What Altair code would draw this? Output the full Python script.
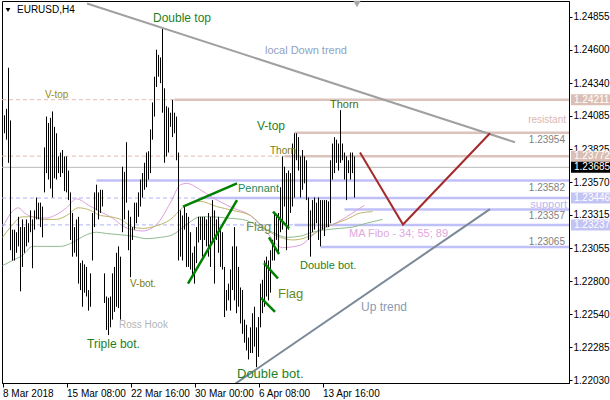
import altair as alt
import pandas as pd

# ---- EURUSD H4 bars (bar 0 = 8 Mar 2018 00:00), high / low per bar ----
highs = [
    1.2415, 1.2409, 1.2414, 1.2446, 1.2405, 1.2320, 1.2320, 1.2318, 1.2330, 1.2322,
    1.2328, 1.2322, 1.2328, 1.2325, 1.2335, 1.2328, 1.2335, 1.2345, 1.2341, 1.2341,
    1.2338, 1.2384, 1.2408, 1.2403, 1.2407, 1.2412, 1.2400, 1.2395, 1.2377, 1.2380,
    1.2382, 1.2377, 1.2377, 1.2366, 1.2349, 1.2333, 1.2322, 1.2328, 1.2330, 1.2294,
    1.2296, 1.2293, 1.2291, 1.2273, 1.2286, 1.2333, 1.2349, 1.2355, 1.2349, 1.2351,
    1.2351, 1.2286, 1.2268, 1.2267, 1.2268, 1.2286, 1.2291, 1.2302, 1.2307, 1.2299,
    1.2369, 1.2365, 1.2388, 1.2335, 1.2330, 1.2322, 1.2341, 1.2341, 1.2349, 1.2359,
    1.2364, 1.2372, 1.2380, 1.2381, 1.2398, 1.2419, 1.2439, 1.2460, 1.2456, 1.2454,
    1.2477, 1.2430, 1.2416, 1.2415, 1.2411, 1.2421, 1.2411, 1.2408, 1.2380, 1.2335,
    1.2331, 1.2338, 1.2333, 1.2330, 1.2318, 1.2302, 1.2307, 1.2322, 1.2330, 1.2330,
    1.2330, 1.2330, 1.2328, 1.2333, 1.2330, 1.2343, 1.2335, 1.2328, 1.2330, 1.2322,
    1.2318, 1.2291, 1.2273, 1.2278, 1.2289, 1.2307, 1.2322, 1.2307, 1.2291, 1.2275,
    1.2273, 1.2250, 1.2246, 1.2236, 1.2244, 1.2255, 1.2260, 1.2244, 1.2252, 1.2278,
    1.2281, 1.2296, 1.2299, 1.2296, 1.2304, 1.2312, 1.2333, 1.2330, 1.2333, 1.2353,
    1.2377, 1.2369, 1.2364, 1.2366, 1.2364, 1.2387, 1.2395, 1.2395, 1.2392, 1.2377,
    1.2382, 1.2377, 1.2374, 1.2345, 1.2335, 1.2343, 1.2345, 1.2341, 1.2345, 1.2343,
    1.2343, 1.2343, 1.2343, 1.2342, 1.2374, 1.2387, 1.2392, 1.2390, 1.2387, 1.2413,
    1.2387, 1.2380, 1.2377, 1.2374, 1.2380, 1.2380, 1.2377,
]
lows = [
    1.2396, 1.2395, 1.2390, 1.2372, 1.2304, 1.2296, 1.2296, 1.2302, 1.2307, 1.2272,
    1.2291, 1.2302, 1.2307, 1.2310, 1.2318, 1.2290, 1.2320, 1.2328, 1.2328, 1.2322,
    1.2314, 1.2349, 1.2364, 1.2359, 1.2352, 1.2345, 1.2360, 1.2359, 1.2364, 1.2361,
    1.2364, 1.2350, 1.2349, 1.2343, 1.2312, 1.2299, 1.2302, 1.2299, 1.2278, 1.2273,
    1.2260, 1.2271, 1.2268, 1.2257, 1.2260, 1.2296, 1.2322, 1.2335, 1.2328, 1.2333,
    1.2338, 1.2263, 1.2242, 1.2238, 1.2244, 1.2250, 1.2256, 1.2260, 1.2259, 1.2250,
    1.2318, 1.2328, 1.2341, 1.2304, 1.2283, 1.2312, 1.2320, 1.2325, 1.2330, 1.2338,
    1.2345, 1.2351, 1.2353, 1.2359, 1.2364, 1.2390, 1.2408, 1.2431, 1.2439, 1.2434,
    1.2411, 1.2372, 1.2377, 1.2380, 1.2400, 1.2392, 1.2395, 1.2374, 1.2296, 1.2299,
    1.2296, 1.2320, 1.2291, 1.2291, 1.2289, 1.2283, 1.2278, 1.2294, 1.2310, 1.2312,
    1.2299, 1.2312, 1.2307, 1.2299, 1.2291, 1.2312, 1.2278, 1.2312, 1.2302, 1.2291,
    1.2289, 1.2252, 1.2257, 1.2265, 1.2257, 1.2273, 1.2265, 1.2255, 1.2260, 1.2247,
    1.2239, 1.2232, 1.2226, 1.2219, 1.2224, 1.2224, 1.2229, 1.2213, 1.2221, 1.2244,
    1.2255, 1.2260, 1.2268, 1.2265, 1.2271, 1.2296, 1.2296, 1.2312, 1.2302, 1.2318,
    1.2320, 1.2338, 1.2304, 1.2320, 1.2333, 1.2338, 1.2345, 1.2374, 1.2366, 1.2345,
    1.2351, 1.2356, 1.2343, 1.2312, 1.2299, 1.2318, 1.2320, 1.2325, 1.2312, 1.2307,
    1.2320, 1.2315, 1.2322, 1.2322, 1.2325, 1.2359, 1.2364, 1.2372, 1.2366, 1.2372,
    1.2374, 1.2359, 1.2343, 1.2364, 1.2359, 1.2364, 1.2345,
]

# ---- moving averages (Fibo 34 / 55 / 89), sampled (bar, price) ----
ma34_bar = [0, 8, 11, 15, 22, 26, 32, 37, 43, 49, 55, 61, 65, 70, 77, 84, 89, 92, 99, 105,
            115, 124, 131, 140, 149, 154, 160, 165, 172, 177, 181]
ma34_val = [1.2322, 1.2337, 1.2333, 1.2330, 1.2329, 1.2331, 1.2337, 1.2344, 1.2339, 1.2334,
            1.2329, 1.2322, 1.2320, 1.2319, 1.2324, 1.2341, 1.2355, 1.2356, 1.2351, 1.2345,
            1.2337, 1.2331, 1.2320, 1.2306, 1.2308, 1.2314, 1.2322, 1.2324, 1.2330, 1.2335,
            1.2339]
ma55_bar = [0, 4, 10, 15, 20, 27, 32, 38, 44, 49, 54, 59, 65, 70, 77, 84, 90, 99, 107, 115,
            124, 132, 139, 145, 152, 157, 165, 172, 179, 185]
ma55_val = [1.2314, 1.2322, 1.2330, 1.2330, 1.2328, 1.2328, 1.2331, 1.2337, 1.2335, 1.2331,
            1.2330, 1.2328, 1.2322, 1.2321, 1.2323, 1.2328, 1.2337, 1.2342, 1.2338, 1.2335,
            1.2331, 1.2320, 1.2314, 1.2312, 1.2314, 1.2318, 1.2324, 1.2328, 1.2333, 1.2334]
ma89_bar = [0, 5, 10, 15, 20, 29, 35, 42, 47, 52, 59, 65, 72, 79, 85, 92, 99, 105, 112, 120,
            129, 135, 142, 149, 155, 162, 169, 175, 182, 190]
ma89_val = [1.2292, 1.2296, 1.2300, 1.2307, 1.2307, 1.2307, 1.2310, 1.2316, 1.2318, 1.2317,
            1.2316, 1.2315, 1.2313, 1.2314, 1.2316, 1.2324, 1.2330, 1.2330, 1.2329, 1.2328,
            1.2322, 1.2318, 1.2314, 1.2315, 1.2318, 1.2320, 1.2321, 1.2322, 1.2325, 1.2328]

# ---- horizontal price levels ----
level_price = [1.24211, 1.23954, 1.23772, 1.23685, 1.23582, 1.23446, 1.23357, 1.23237, 1.23065]
level_group = ["res", "res", "res", "cur", "sup", "sup", "sup", "sup", "sup"]
level_from = [86, 146, 141, -0.25, 47, 99, 171, 146, 159]      # bar where the solid line starts
level_dashed = [True, False, True, False, False, True, False, True, False]

# price tags on the axis and plain level captions
tag_price = [1.24211, 1.23772, 1.23685, 1.23446, 1.23237]
tag_group = ["res", "res", "cur", "sup", "sup"]
caption_below = [1.23954, 1.23582, 1.23357]
caption_above = [1.23065]

# ---- trend lines (bar, price) ----
down_trend = [(42.25, 1.2496), (256.25, 1.2388)]
up_trend = [(116.25, 1.2200), (243.75, 1.2336)]
forecast = [(178.75, 1.2380), (200.25, 1.2324), (243.75, 1.2395)]
pattern_segments = [
    [(90.25, 1.2338), (117.25, 1.2356)],   # pennant upper
    [(92.75, 1.2278), (117.25, 1.2343)],   # pennant lower
    [(135.25, 1.2334), (143.25, 1.2321)],  # flag
    [(133.25, 1.2314), (138.25, 1.2301)],
    [(130.75, 1.2294), (137.75, 1.2282)],  # flag
    [(129.25, 1.2267), (136.25, 1.2256)],
]

# ---- annotations (text, bar, price) ----
notes = [
    ("Double top", 75.25, 1.2485),
    ("local Down trend", 131.25, 1.2459),
    ("V-top", 21.25, 1.2425),
    ("Thorn", 163.75, 1.2417),
    ("V-top", 127.25, 1.2401),
    ("Thorn", 133.75, 1.2381),
    ("Pennant", 117.75, 1.2352),
    ("Flag", 121.75, 1.2322),
    ("MA Fibo - 34; 55; 89", 173.25, 1.2317),
    ("Double bot.", 148.75, 1.2292),
    ("V-bot.", 63.75, 1.2278),
    ("Flag", 137.75, 1.2270),
    ("Up trend", 179.25, 1.2260),
    ("Ross Hook", 58.25, 1.2246),
    ("Triple bot.", 42.25, 1.2231),
    ("Double bot.", 117.25, 1.2208),
]
right_notes = [("resistant", 281.75, 1.2405), ("support", 282.25, 1.2339)]

tick_bars = [0, 32, 64, 96, 128, 160]
tick_labels = ["8 Mar 2018", "15 Mar 08:00", "22 Mar 16:00", "30 Mar 00:00",
               "6 Apr 08:00", "13 Apr 16:00"]
price_ticks = [1.24855, 1.24600, 1.24340, 1.24085, 1.23825, 1.23570, 1.23315,
               1.23055, 1.22800, 1.22540, 1.22285, 1.22030]

# ---------------------------------------------------------------------------
FONT = "Liberation Sans"
GREEN = "#1f7f1f"
OLIVE = "#7a7a12"
note_style = {
    0: (GREEN, 12), 1: ("#8fa3bf", 11), 2: ("#9a8a10", 10), 3: ("#4d6b00", 11),
    4: (GREEN, 12), 5: (OLIVE, 10), 6: ("#1f8a5a", 11), 7: ("#6f8f4f", 13),
    8: ("#e0a8e0", 11), 9: (GREEN, 11), 10: (OLIVE, 10), 11: ("#5f8a1f", 13),
    12: ("#8a9ab0", 12), 13: ("#b4b4b4", 10), 14: (GREEN, 12), 15: (GREEN, 13),
}
group_colors = {"res": "#dcc4bc", "sup": "#c0c0f8", "cur": "#b8b8b8"}
dash_colors = {"res": "#e8b8b0", "sup": "#b0b0ff", "cur": "#b8b8b8"}
tag_colors = {"res": "#dbbfb5", "sup": "#c4c4f4", "cur": "black"}

X0, X1 = -0.25, 283.25
Y0, Y1 = 1.22007, 1.24979
xs = alt.Scale(domain=[X0, X1], nice=False, zero=False)
ys = alt.Scale(domain=[Y0, Y1], nice=False, zero=False)

label_expr = " : ".join(f"datum.value == {b} ? '{t}'" for b, t in zip(tick_bars, tick_labels)) + " : ''"

# one shared axis definition per channel, repeated in every layer so they merge cleanly
X_AXIS = alt.Axis(
    values=tick_bars, labelExpr=label_expr, orient="bottom", tickSize=4,
    labelAlign="left", labelBaseline="top", labelPadding=1, labelFontSize=10,
    labelFont=FONT, labelColor="black", domainColor="black", tickColor="black",
    grid=False, title=None, labelOverlap=False, labelBound=False, labelFlush=False)
Y_AXIS = alt.Axis(
    values=price_ticks, format=".5f", orient="right", tickSize=3, labelPadding=1,
    labelFontSize=10, labelFont=FONT, labelColor="black", domainColor="black",
    tickColor="black", grid=False, title=None, labelOverlap=False, labelBound=False,
    labelFlush=False)


def X(field):
    return alt.X(field, scale=xs, axis=X_AXIS)


def Y(field):
    return alt.Y(field, scale=ys, axis=Y_AXIS)


bars_df = pd.DataFrame({"bar": list(range(len(highs))), "high": highs, "low": lows})

bars = alt.Chart(bars_df).mark_rule(color="black", strokeWidth=1).encode(
    x=X("bar:Q"), y=Y("low:Q"), y2="high:Q")

# level lines
solid_rows, dash_rows = [], []
for p, g, f, d in zip(level_price, level_group, level_from, level_dashed):
    solid_rows.append({"p": p, "x0": f, "x1": X1, "c": group_colors[g],
                       "w": 1 if g == "cur" else 2.5})
    if d:
        dash_rows.append({"p": p, "x0": X0, "x1": f, "c": dash_colors[g]})

solid_levels = alt.Chart(pd.DataFrame(solid_rows)).mark_rule().encode(
    x=X("x0:Q"), x2="x1:Q", y=Y("p:Q"),
    color=alt.Color("c:N", scale=None), strokeWidth=alt.StrokeWidth("w:Q", scale=None))
dashed_levels = alt.Chart(pd.DataFrame(dash_rows)).mark_rule(strokeDash=[4, 3], strokeWidth=1).encode(
    x=X("x0:Q"), x2="x1:Q", y=Y("p:Q"),
    color=alt.Color("c:N", scale=None))

# moving averages
ma_rows = []
for name, bs, vs in (("34", ma34_bar, ma34_val), ("55", ma55_bar, ma55_val), ("89", ma89_bar, ma89_val)):
    ma_rows += [{"ma": name, "bar": b, "v": v} for b, v in zip(bs, vs)]
mas = alt.Chart(pd.DataFrame(ma_rows)).mark_line(strokeWidth=1, interpolate="monotone", clip=True).encode(
    x=X("bar:Q"), y=Y("v:Q"),
    color=alt.Color("ma:N", scale=alt.Scale(domain=["34", "55", "89"],
                                            range=["#dda0dd", "#bdb56b", "#8fbc8f"]), legend=None),
    detail="ma:N")


def rows_of(points, key):
    return [{"bar": b, "v": v, "k": key, "o": n} for n, (b, v) in enumerate(points)]


def seg_chart(rows, color, width):
    return alt.Chart(pd.DataFrame(rows)).mark_line(color=color, strokeWidth=width, clip=True).encode(
        x=X("bar:Q"), y=Y("v:Q"), detail="k:N", order="o:Q")


down = seg_chart(rows_of(down_trend, "d"), "#a0a0a0", 2)
up = seg_chart(rows_of(up_trend, "u"), "#7a8898", 2)
fc = seg_chart(rows_of(forecast, "f"), "#a52a2a", 2)
pat_rows = []
for k, seg in enumerate(pattern_segments):
    pat_rows += rows_of(seg, f"p{k}")
patterns = seg_chart(pat_rows, "#008000", 2.5)

# annotations
note_df = pd.DataFrame([{"t": t, "bar": b, "v": v, "col": note_style[i][0], "fs": note_style[i][1]}
                        for i, (t, b, v) in enumerate(notes)])
note_text = alt.Chart(note_df).mark_text(align="left", baseline="middle", font=FONT).encode(
    x=X("bar:Q"), y=Y("v:Q"),
    text="t:N", color=alt.Color("col:N", scale=None), size=alt.Size("fs:Q", scale=None))

rn_df = pd.DataFrame([{"t": t, "bar": b, "v": v} for t, b, v in right_notes])
rn_df["col"] = ["#d8b8b4", "#b8b8f0"]
rn_df["fs"] = [10, 11]
right_text = alt.Chart(rn_df).mark_text(align="right", baseline="middle", font=FONT).encode(
    x=X("bar:Q"), y=Y("v:Q"),
    text="t:N", color=alt.Color("col:N", scale=None), size=alt.Size("fs:Q", scale=None))

cap_b = alt.Chart(pd.DataFrame({"p": caption_below})).mark_text(
    align="right", baseline="middle", dy=7, font=FONT, fontSize=10, color="#808080").encode(
    x=alt.value(563), y=Y("p:Q"), text=alt.Text("p:Q", format=".5f"))
cap_a = alt.Chart(pd.DataFrame({"p": caption_above})).mark_text(
    align="right", baseline="middle", dy=-5, font=FONT, fontSize=10, color="#808080").encode(
    x=alt.value(563), y=Y("p:Q"), text=alt.Text("p:Q", format=".5f"))

# price tags on the right axis
tag_df = pd.DataFrame({"p": tag_price, "c": [tag_colors[g] for g in tag_group]})
tags = alt.Chart(tag_df).mark_rect(height=11, clip=False).encode(
    x=alt.value(569), x2=alt.value(608), y=Y("p:Q"),
    color=alt.Color("c:N", scale=None))
tag_text = alt.Chart(tag_df).mark_text(align="left", baseline="middle", font=FONT, fontSize=10,
                                       color="white").encode(
    x=alt.value(572), y=Y("p:Q"), text=alt.Text("p:Q", format=".5f"))

# header
hdr = pd.DataFrame({"t": ["EURUSD,H4"]})
title_text = alt.Chart(hdr).mark_text(align="left", baseline="middle", font=FONT, fontSize=10,
                                      color="black").encode(
    x=alt.value(15), y=alt.value(9), text="t:N")
title_arrow = alt.Chart(hdr).mark_point(shape="triangle-down", filled=True, size=22,
                                        color="black", opacity=1).encode(
    x=alt.value(6), y=alt.value(9))
shift_arrow = alt.Chart(hdr).mark_point(shape="triangle-down", filled=True, size=55,
                                        color="#a8a8a8", opacity=1).encode(
    x=alt.value(355), y=alt.value(3))

chart = alt.layer(
    dashed_levels, solid_levels, mas, bars, down, up, fc, patterns,
    note_text, right_text, cap_b, cap_a, tags, tag_text, title_arrow, title_text, shift_arrow,
).properties(
    width=567, height=382,
    padding={"left": 2, "top": 1, "right": 41, "bottom": 17},
    autosize=alt.AutoSizeParams(type="none"),
    background="white",
).configure_view(stroke="black", strokeWidth=1)

chart.save("out.html", embed_options={"renderer": "svg", "actions": False})
